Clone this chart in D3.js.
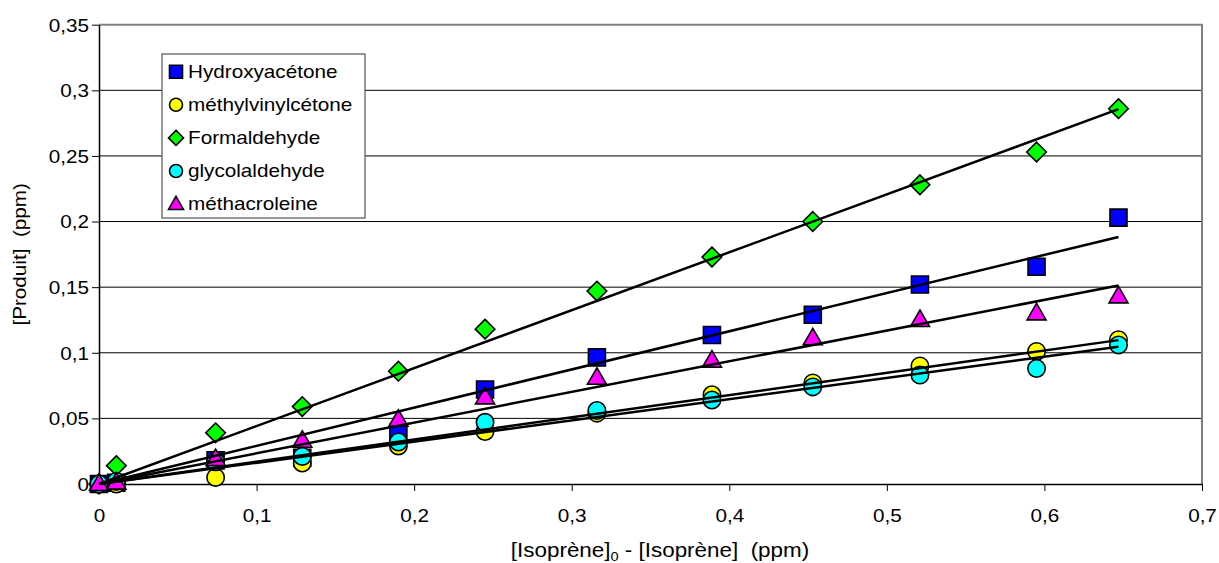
<!DOCTYPE html>
<html><head><meta charset="utf-8">
<script src="https://cdn.jsdelivr.net/npm/d3@7"></script>
<style>
html,body{margin:0;padding:0;background:#fff;}
svg{display:block;font-family:"Liberation Sans",Arial,sans-serif;}
</style></head>
<body><svg id="chart" width="1219" height="563"></svg>
<script>
// ---- data ----
const xValues = [0, 0.011, 0.074, 0.129, 0.190, 0.245, 0.316, 0.389, 0.453, 0.521, 0.595, 0.647];
const hydroxyacetone = [0, 0.001, 0.018, 0.020, 0.039, 0.072, 0.0965, 0.1135, 0.129, 0.152, 0.1655, 0.203];
const methylvinylcetone = [0, 0.000, 0.005, 0.016, 0.029, 0.040, 0.054, 0.068, 0.077, 0.090, 0.101, 0.110];
const formaldehyde = [0, 0.014, 0.039, 0.059, 0.086, 0.118, 0.147, 0.173, 0.200, 0.228, 0.253, 0.286];
const glycolaldehyde = [0, 0.002, 0.017, 0.021, 0.032, 0.047, 0.056, 0.064, 0.074, 0.083, 0.088, 0.106];
const methacroleine = [0, 0.001, 0.019, 0.033, 0.049, 0.066, 0.081, 0.094, 0.111, 0.125, 0.130, 0.143];
const seriesNames = ["Hydroxyacétone", "méthylvinylcétone", "Formaldehyde", "glycolaldehyde", "méthacroleine"];
const seriesColors = ["#0000ff", "#ffff00", "#00ff00", "#00ffff", "#ff00ff"];
const seriesShapes = ["square", "circle", "diamond", "circle", "triangle"];
const xTicks = [0, 0.1, 0.2, 0.3, 0.4, 0.5, 0.6, 0.7];
const yTicks = [0, 0.05, 0.1, 0.15, 0.2, 0.25, 0.3, 0.35];
const xTitle = "[Isoprène]";
const xTitleSub = "0";
const xTitleRest = " - [Isoprène]\u00a0\u00a0(ppm)";
const yTitle = "[Produit]\u00a0\u00a0(ppm)";

const seriesValues = [hydroxyacetone, methylvinylcetone, formaldehyde, glycolaldehyde, methacroleine];

const SX = 1.15, FS = 18;
const svg = d3.select("#chart");
const L = 99, R = 1202, T = 24.7, B = 484;
const x = d3.scaleLinear().domain([0, 0.7]).range([L, R]);
const y = d3.scaleLinear().domain([0, 0.35]).range([B, T]);
const fmt = d => String(+d.toFixed(2)).replace(".", ",");

// gridlines
svg.append("g").selectAll("line").data(yTicks.filter(d => d > 0 && d < 0.35)).join("line")
  .attr("x1", L).attr("x2", R).attr("y1", d => y(d)).attr("y2", d => y(d))
  .attr("stroke", "#000").attr("stroke-width", 1);
// top/right border
svg.append("path").attr("d", `M${L},${T}H${R}V${B}`).attr("fill", "none")
  .attr("stroke", "#808080").attr("stroke-width", 2);

// axes
const xAxis = svg.append("g").attr("transform", `translate(0,${B})`)
  .call(d3.axisBottom(x).tickValues(xTicks).tickFormat(fmt).tickSize(7).tickSizeOuter(0));
const yAxis = svg.append("g").attr("transform", `translate(${L},0)`)
  .call(d3.axisLeft(y).tickValues(yTicks).tickFormat(fmt).tickSize(7).tickSizeOuter(0));
[xAxis, yAxis].forEach(a => {
  a.select(".domain").attr("stroke", "#000").attr("stroke-width", 1.5);
  a.selectAll(".tick line").attr("stroke", "#000").attr("stroke-width", 1);
  a.selectAll(".tick text").attr("font-size", FS).attr("fill", "#000")
    .attr("font-family", "Liberation Sans, Arial, sans-serif");
});
xAxis.selectAll(".tick text").attr("y", 0).attr("dy", 0)
  .attr("transform", `translate(0,38) scale(${SX},1)`);
yAxis.selectAll(".tick text").attr("x", 0).attr("dy", "0.35em")
  .attr("transform", `translate(-10,0) scale(${SX},1)`);

// markers
const diamondSym = { draw(ctx, size) { const r = Math.sqrt(size / 2); ctx.moveTo(0, -r); ctx.lineTo(r, 0); ctx.lineTo(0, r); ctx.lineTo(-r, 0); ctx.closePath(); } };
const symType = {square: d3.symbolSquare, circle: d3.symbolCircle, diamond: diamondSym, triangle: d3.symbolTriangle};
const symSize = {square: 17*17, circle: Math.PI*8.7*8.7, diamond: 2*9.8*9.8, triangle: 0.433*19*19};
const markG = svg.append("g");
seriesValues.forEach((vals, i) => {
  const shp = seriesShapes[i];
  markG.append("g").selectAll("path").data(vals.map((v, j) => [xValues[j], v])).join("path")
    .attr("d", d3.symbol().type(symType[shp]).size(symSize[shp]))
    .attr("transform", d => `translate(${x(d[0])},${y(d[1]) + (shp === "triangle" ? 1 : 0)})`)
    .attr("fill", seriesColors[i]).attr("stroke", "#000").attr("stroke-width", 1.6);
});

// linear trend lines (least squares through origin)
const lineG = svg.append("g");
seriesValues.forEach(vals => {
  const b = d3.sum(vals, (v, j) => v * xValues[j]) / d3.sum(xValues, v => v * v);
  const x0 = d3.min(xValues), x1 = d3.max(xValues);
  lineG.append("line").attr("x1", x(x0)).attr("y1", y(b*x0)).attr("x2", x(x1)).attr("y2", y(b*x1))
    .attr("stroke", "#000").attr("stroke-width", 2.5);
});

// legend
const lg = svg.append("g");
lg.append("rect").attr("x", 162).attr("y", 54).attr("width", 203).attr("height", 164)
  .attr("fill", "#fff").attr("stroke", "#555").attr("stroke-width", 1.2);
seriesNames.forEach((name, i) => {
  const cy = 71.7 + i * 33.1;
  const shp = seriesShapes[i];
  const lsize = {square: 13*13, circle: Math.PI*6.5*6.5, diamond: 2*7.5*7.5, triangle: 0.433*15*15}[shp];
  lg.append("path").attr("d", d3.symbol().type(symType[shp]).size(lsize))
    .attr("transform", `translate(176,${cy + (shp === "triangle" ? 1 : 0)})`)
    .attr("fill", seriesColors[i]).attr("stroke", "#000").attr("stroke-width", 1.6);
  lg.append("text").attr("transform", `translate(188,${cy}) scale(${SX},1)`)
    .attr("dy", "0.35em").attr("font-size", FS).text(name);
});

// axis titles
const xt = svg.append("text").attr("text-anchor", "middle").attr("font-size", 19.5)
  .attr("transform", `translate(660,557) scale(${SX},1)`);
xt.append("tspan").text(xTitle);
xt.append("tspan").attr("font-size", 19.5*0.65).attr("dy", 4).text(xTitleSub);
xt.append("tspan").attr("dy", -4).text(xTitleRest);

svg.append("text").attr("text-anchor", "middle").attr("font-size", FS)
  .attr("transform", `translate(26,${(T+B)/2}) rotate(-90) scale(${SX},1)`)
  .text(yTitle);
</script>
</body></html>
